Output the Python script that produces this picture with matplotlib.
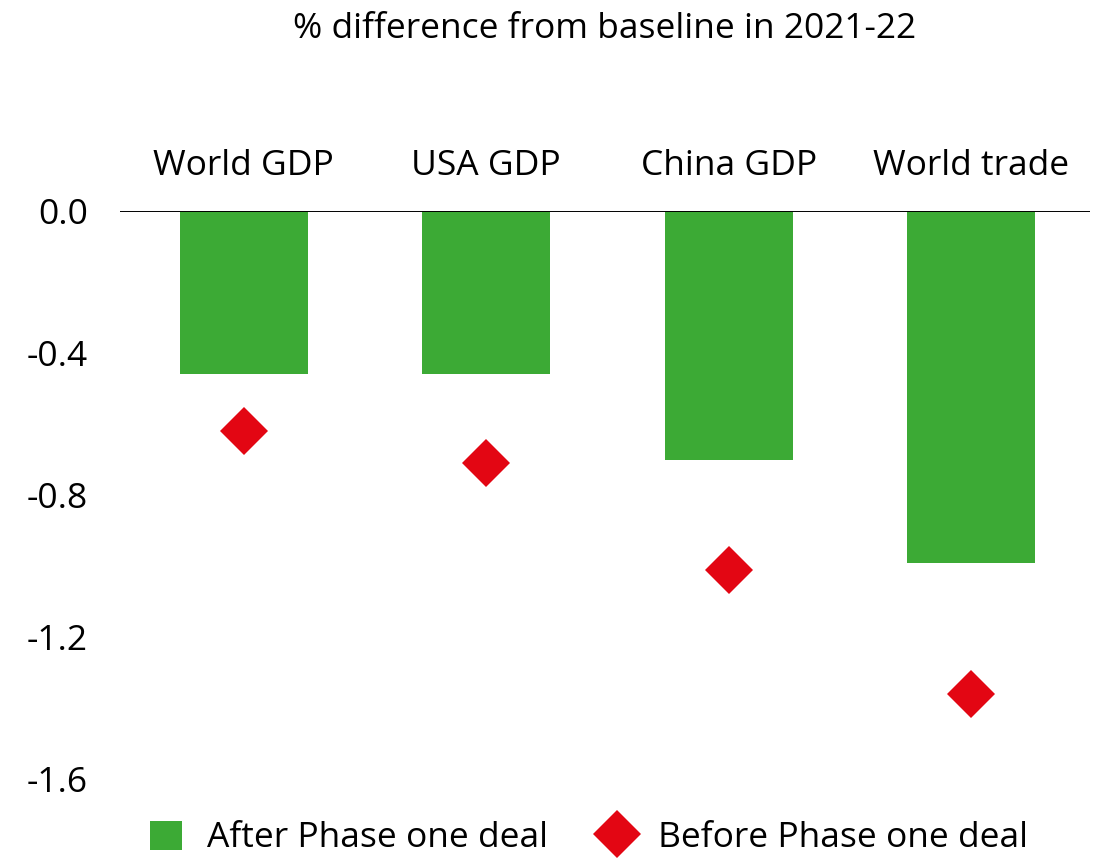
import matplotlib
matplotlib.use("Agg")
import matplotlib.pyplot as plt
from matplotlib.lines import Line2D
from matplotlib.patches import Patch

categories = ["World GDP", "USA GDP", "China GDP", "World trade"]
after_deal = [-0.46, -0.46, -0.70, -0.99]
before_deal = [-0.62, -0.71, -1.01, -1.36]
y_ticks = [0.0, -0.4, -0.8, -1.2, -1.6]
y_tick_labels = ["0.0", "-0.4", "-0.8", "-1.2", "-1.6"]
title = "% difference from baseline in 2021-22"
legend_labels = ["After Phase one deal", "Before Phase one deal"]

GREEN = "#3caa35"
RED = "#e30613"
FONT = "Open Sans"
FS = 25.5

plt.rcParams["font.family"] = [FONT, "DejaVu Sans"]

fig = plt.figure(figsize=(10.96, 8.59), dpi=100)
ax = fig.add_axes([120 / 1096, 1 - 797 / 859, 970 / 1096, 586 / 859])

x = list(range(len(categories)))
ax.bar(x, after_deal, width=0.528, color=GREEN, zorder=2)
ax.plot(x, before_deal, linestyle="none", marker="D", markersize=24,
        color=RED, markeredgewidth=0, zorder=3)

ax.set_xlim(-0.51, 3.49)
ax.set_ylim(-1.65, 0)
ax.axhline(0, color="black", linewidth=1.4, zorder=4)

for s in ax.spines.values():
    s.set_visible(False)
ax.set_xticks([])
ax.set_yticks(y_ticks)
ax.set_yticklabels(y_tick_labels, fontsize=FS)
ax.tick_params(axis="y", length=0, pad=23)

# category names sit above the zero line
for xi, name in zip(x, categories):
    ax.text(xi, 1 + (211 - 166) / 586, name, transform=ax.get_xaxis_transform(),
            ha="center", va="center", fontsize=FS)

fig.text(605 / 1096, 1 - 29 / 859, title, ha="center", va="center", fontsize=FS)

handles = [
    Patch(facecolor=GREEN, edgecolor="none"),
    Line2D([], [], linestyle="none", marker="D", markersize=24,
           color=RED, markeredgewidth=0),
]
fig.legend(handles, legend_labels, loc="center", ncol=2,
           bbox_to_anchor=(589 / 1096, 1 - 838 / 859), frameon=False,
           fontsize=FS, handlelength=0.9, handleheight=0.9,
           columnspacing=1.5, handletextpad=0.7, borderpad=0, borderaxespad=0)

fig.savefig("out.png", dpi=100)
